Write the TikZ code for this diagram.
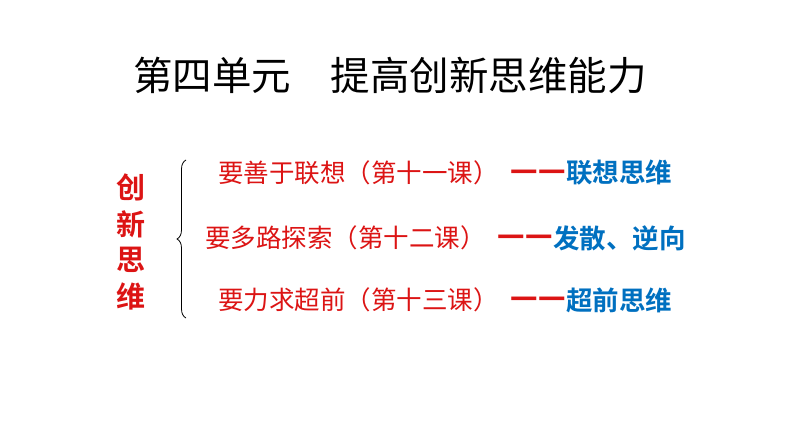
\documentclass[tikz,border=0pt]{standalone}
\usepackage{fontspec}
\newfontfamily\cjk{Noto Sans CJK SC}
\newfontfamily\cjkb{Noto Sans CJK SC Bold}
\newfontfamily\dashfont{DejaVu Sans}
\usetikzlibrary{decorations.pathreplacing}
\definecolor{myred}{RGB}{220,20,20}
\definecolor{myblue}{RGB}{0,112,192}
\begin{document}
\begin{tikzpicture}[x=1pt,y=-1pt,
  red/.style={anchor=west,inner sep=0pt,text=myred,font=\cjk\fontsize{25.5}{26}\selectfont},
  dsh/.style={anchor=east,inner sep=0pt,text=myred,font=\dashfont\bfseries\fontsize{28}{28}\selectfont},
  blu/.style={anchor=west,inner sep=0pt,text=myblue,font=\cjkb\fontsize{26.5}{27}\selectfont},
  vert/.style={inner sep=0pt,text=myred,font=\cjkb\fontsize{29}{29}\selectfont}]
\path[fill=white] (0,0) rectangle (794,447);
\node[inner sep=0pt,font=\cjk\fontsize{39.5}{40}\selectfont] (title) at (390,75) {第四单元\hspace{1em}提高创新思维能力};
\node[vert] (v1) at (131,187) {创};
\node[vert] (v2) at (131,224) {新};
\node[vert] (v3) at (131,260) {思};
\node[vert] (v4) at (131,296) {维};
\coordinate (bt) at (186,160);
\coordinate (bb) at (186,318);
\draw[line width=0.8pt,decorate,decoration={brace,amplitude=9pt,mirror}] (bt) -- (bb);
\node[red] (a1) at (218,173) {要善于联想（第十一课）};
\node[dsh] (d1) at (566,175) {——};
\node[blu] (b1) at (566,173) {联想思维};
\node[red] (a2) at (205,238) {要多路探索（第十二课）};
\node[dsh] (d2) at (553,240) {——};
\node[blu] (b2) at (553,238) {发散、逆向};
\node[red] (a3) at (218,300) {要力求超前（第十三课）};
\node[dsh] (d3) at (566,302) {——};
\node[blu] (b3) at (566,300) {超前思维};
\end{tikzpicture}
\end{document}
